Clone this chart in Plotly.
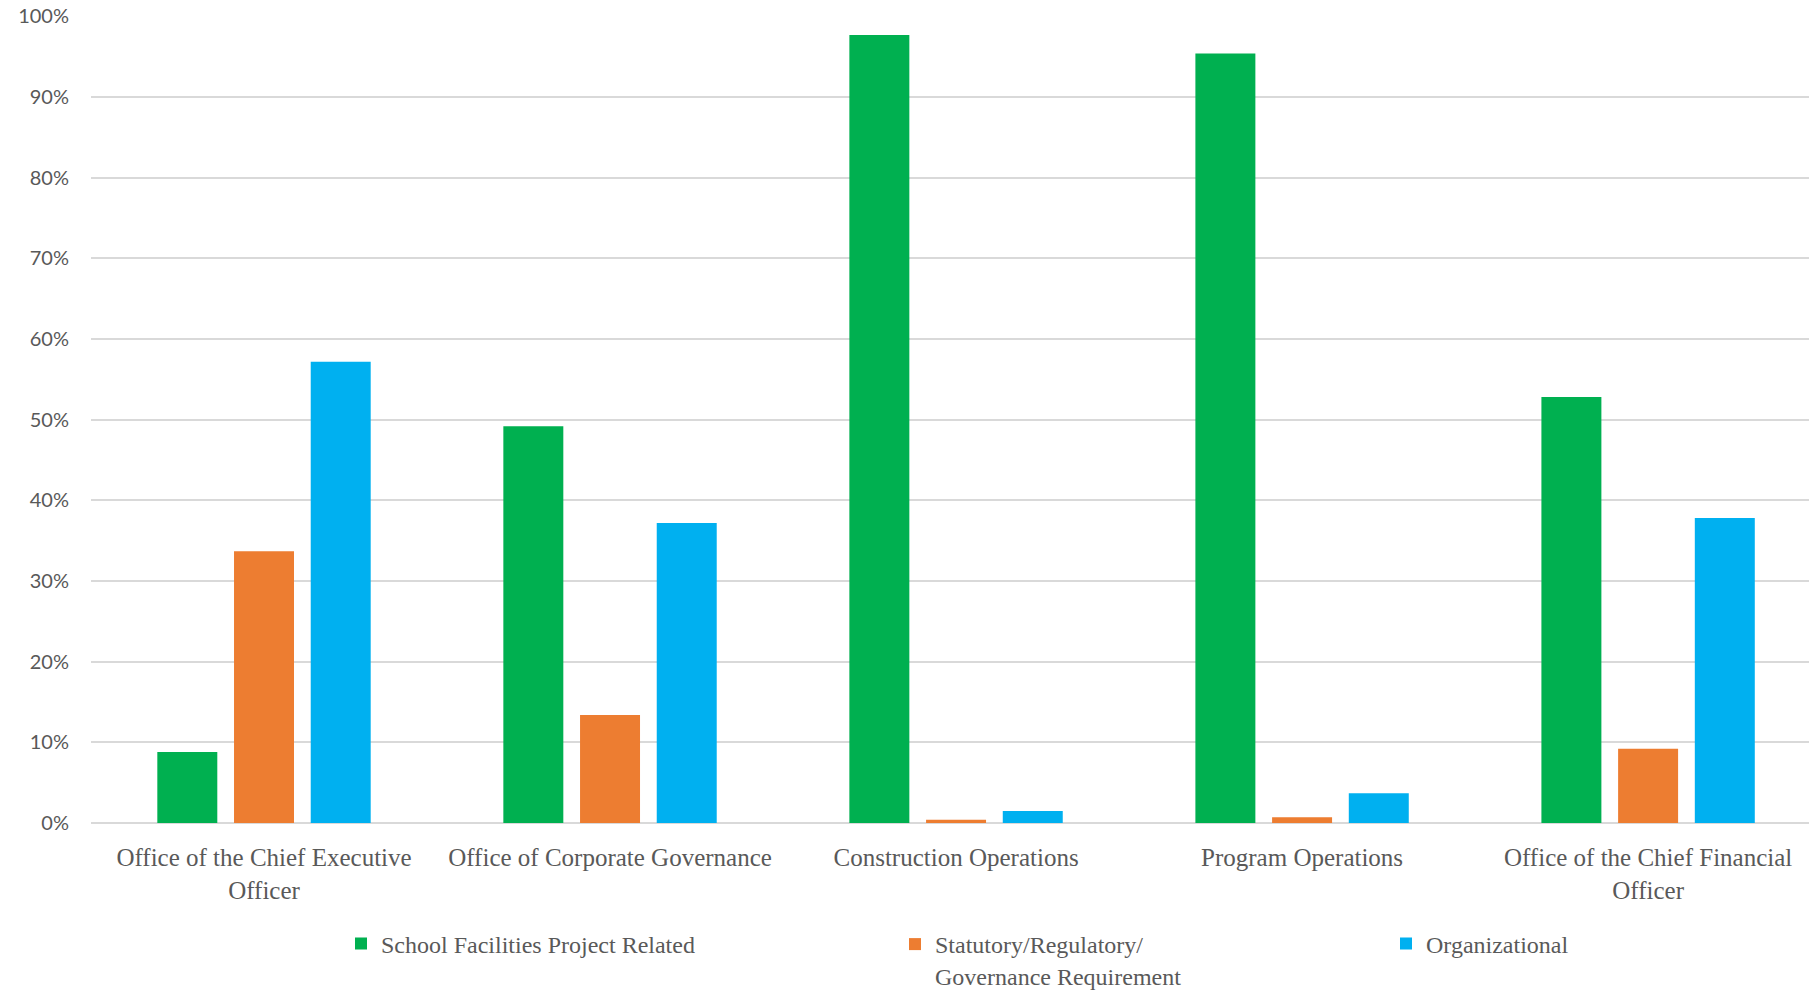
import plotly.graph_objects as go

categories = [
    "Office of the Chief Executive<br>Officer",
    "Office of Corporate Governance",
    "Construction Operations",
    "Program Operations",
    "Office of the Chief Financial<br>Officer",
]
school_facilities = [0.088, 0.492, 0.977, 0.954, 0.528]
statutory = [0.337, 0.134, 0.004, 0.007, 0.092]
organizational = [0.572, 0.372, 0.015, 0.037, 0.378]

series_names = [
    "School Facilities Project Related",
    "Statutory/Regulatory/<br>Governance Requirement",
    "Organizational",
]
colors = ["#00B050", "#ED7D31", "#00B0F0"]
y_ticks = [0, 0.1, 0.2, 0.3, 0.4, 0.5, 0.6, 0.7, 0.8, 0.9, 1.0]

W, H = 1809, 998
TOP = 16
PLOT_LEFT = 91
PLOT_BOTTOM = 823

fig = go.Figure()
for i, (name, vals, col) in enumerate(zip(series_names, [school_facilities, statutory, organizational], colors)):
    fig.add_trace(go.Bar(
        x=categories, y=vals, name=name,
        marker=dict(color=col, line=dict(width=0)),
        legend="legend" if i == 0 else f"legend{i+1}",
    ))

legend_font = dict(family="Liberation Serif", size=24, color="#595959")
paper_h = H - TOP
leg_common = dict(orientation="v", xanchor="left", font=legend_font,
                  bgcolor="rgba(0,0,0,0)", valign="top", tracegroupgap=0)
top_y = (H - 921.5) / paper_h

fig.update_layout(
    width=W, height=H,
    margin=dict(l=0, r=0, t=TOP, b=0),
    plot_bgcolor="white", paper_bgcolor="white",
    barmode="group", bargap=0.335, bargroupgap=0.218,
    showlegend=True,
    legend=dict(x=(382 - 41) / W, y=top_y, yanchor="top", **leg_common),
    legend2=dict(x=(936 - 41) / W, y=0, yanchor="bottom", **leg_common),
    legend3=dict(x=(1427 - 41) / W, y=top_y, yanchor="top", **leg_common),
    yaxis=dict(
        domain=[(H - PLOT_BOTTOM) / paper_h, 1],
        range=[0, 1.0005], tickvals=y_ticks, tickformat=".0%",
        showgrid=True, gridcolor="#D9D9D9", gridwidth=1.5,
        zeroline=True, zerolinecolor="#D9D9D9", zerolinewidth=1.5,
        showline=False, ticks="", automargin=False,
        tickfont=dict(family="Lato", size=20, color="#595959"),
        ticklabelstandoff=21,
    ),
    xaxis=dict(
        domain=[PLOT_LEFT / W, 1],
        range=[-0.5, 4.465],
        showgrid=False, showline=False, ticks="", automargin=False,
        tickfont=dict(family="Liberation Serif", size=25, color="#595959"),
        ticklabelstandoff=17,
    ),
)

fig.write_html("out.html")
